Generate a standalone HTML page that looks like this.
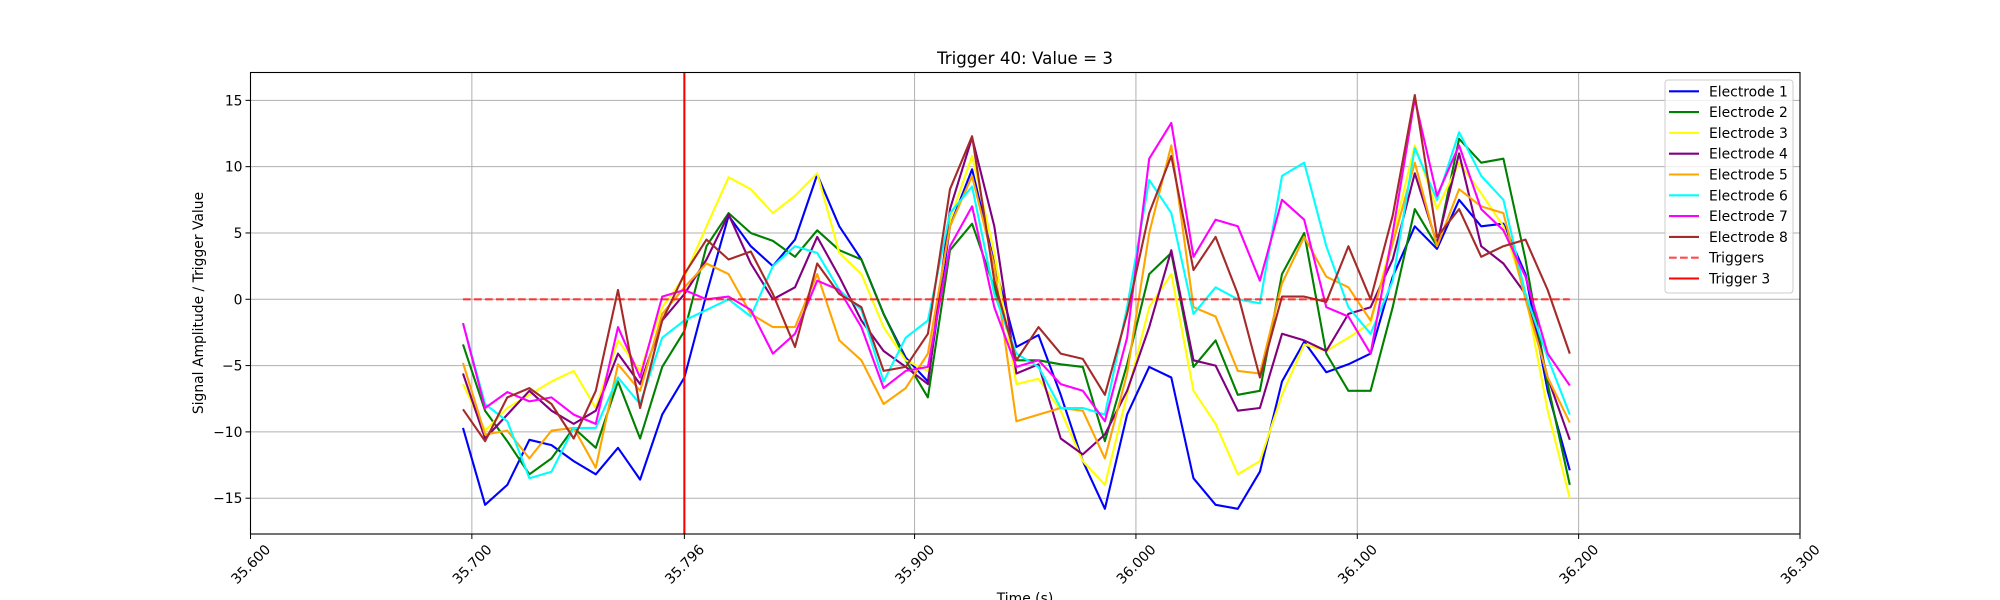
<!DOCTYPE html>
<html><head><meta charset="utf-8"><style>
html,body{margin:0;padding:0;background:#fff;}
svg{display:block;font-family:"DejaVu Sans","Liberation Sans",sans-serif;}
</style></head><body>
<svg id="chart" width="2000" height="600" viewBox="0 0 2000 600" xmlns="http://www.w3.org/2000/svg">
<rect x="0" y="0" width="2000" height="600" fill="#fff"/>
<text x="1025" y="64" text-anchor="middle" font-size="16.7" fill="#000">Trigger 40: Value = 3</text>
<text transform="translate(203,303) rotate(-90)" text-anchor="middle" font-size="13.9" fill="#000">Signal Amplitude / Trigger Value</text>
<text x="1025" y="603" text-anchor="middle" font-size="13.9" fill="#000">Time (s)</text>
<g id="grid"></g>
<g id="series"></g>
<g id="axes"></g>
</svg>
<script>
const times = [35.696,35.706,35.716,35.726,35.736,35.746,35.756,35.766,35.776,35.786,35.796,35.806,35.816,
35.826,35.836,35.846,35.856,35.866,35.876,35.886,35.896,35.906,35.916,35.926,35.936,35.946,
35.956,35.966,35.976,35.986,35.996,36.006,36.016,36.026,36.036,36.046,36.056,36.066,36.076,
36.086,36.096,36.106,36.116,36.126,36.136,36.146,36.156,36.166,36.176,36.186,36.196];
const e1 = [-9.7,-15.5,-14,-10.6,-11,-12.2,-13.2,-11.2,-13.6,-8.7,-5.9,0.4,6.3, 4,2.5,4.5,9.4,5.5,3,-1.1,-4.4,-6.2,5.5,9.8,2.7,-3.6, -2.7,-7.2,-12.2,-15.8,-8.7,-5.1,-5.9,-13.5,-15.5,-15.8,-13,-6.2,-3.2, -5.5,-4.9,-4.1,1.7,5.5,3.8,7.5,5.5,5.7,1.9,-6.9,-12.9];
const e2 = [-3.4,-8.4,-10.7,-13.2,-12,-9.7,-11.2,-6.2,-10.5,-5.1,-2.4,4,6.5, 5,4.4,3.2,5.2,3.7,3,-1.1,-4.6,-7.4,3.7,5.7,0.9,-4.6, -4.6,-4.9,-5.1,-10.7,-4.9,1.9,3.5,-5.1,-3.1,-7.2,-6.9,1.9,5, -4.1,-6.9,-6.9,-0.6,6.8,4,12.1,10.3,10.6,3,-6.4,-14];
const e3 = [-6.4,-9.9,-8.2,-7.2,-6.2,-5.4,-8.2,-3.1,-5.4,-0.6,1.7,5.5,9.2, 8.3,6.5,7.8,9.5,3.5,1.9,-2.1,-4.6,-5.4,6,10.8,3.5,-6.4, -6,-8.4,-12.2,-14,-7.2,-0.6,1.9,-6.9,-9.4,-13.2,-12.2,-7.2,-3.4, -3.9,-2.9,-1.8,4.7,11.6,6.8,10.3,8,5.5,0.4,-8.4,-15];
const e4 = [-5.6,-10.5,-8.7,-6.9,-8.4,-9.4,-8.4,-4.1,-6.4,-1.6,0.4,3,6.4, 2.7,0,0.9,4.7,1.7,-1.6,-3.9,-5.1,-6.4,6.8,12.2,5.5,-5.6, -4.9,-10.5,-11.7,-10.2,-6.9,-2.1,3.7,-4.6,-5,-8.4,-8.2,-2.6,-3.1, -3.9,-1.1,-0.6,3,9.5,4.2,11,4,2.7,0.4,-5.9,-10.6];
const e5 = [-4.8,-10.2,-9.9,-12,-9.9,-9.7,-12.7,-4.9,-6.9,-1.1,0.9,2.7,1.9, -1.1,-2.1,-2.1,1.9,-3.1,-4.6,-7.9,-6.7,-4.1,5.5,9.3,2.5,-9.2, -8.7,-8.2,-8.4,-12,-5.6,5,11.6,-0.6,-1.3,-5.4,-5.6,1.2,4.7, 1.7,0.9,-1.6,4.2,10.3,4,8.3,7,6.5,0,-5.9,-9.3];
const e6 = [-1.8,-7.9,-9.2,-13.5,-13,-9.7,-9.7,-5.9,-7.9,-2.9,-1.6,-0.8,0, -1.3,2.5,4,3.5,0.7,-0.8,-6.2,-2.9,-1.6,6.5,8.5,0.4,-4.1, -5.1,-8.2,-8.2,-8.7,-0.6,9,6.5,-1.1,0.9,0,-0.3,9.3,10.3, 4,-0.6,-2.6,1.4,11.4,7.5,12.6,9.3,7.5,0.4,-4.4,-8.7];
const e7 = [-1.8,-8.2,-7,-7.7,-7.4,-8.7,-9.4,-2.1,-5.9,0.2,0.7,0,0.2, -0.8,-4.1,-2.6,1.4,0.7,-2.1,-6.7,-5.4,-5.1,4,7,-0.6,-5.1, -4.6,-6.4,-6.9,-9.2,-2.9,10.6,13.3,3.2,6,5.5,1.4,7.5,6, -0.6,-1.3,-4.1,5,15.1,7.8,11.6,6.8,5.2,1.7,-4.1,-6.5];
const e8 = [-8.3,-10.7,-7.4,-6.7,-7.9,-10.5,-6.9,0.7,-8.2,-1.6,1.9,4.5,3, 3.6,0.4,-3.6,2.7,0.4,-0.6,-5.4,-5.1,-2.6,8.3,12.3,1.4,-4.6, -2.1,-4.1,-4.5,-7.2,-1.1,6.5,10.8,2.2,4.7,0.4,-5.9,0.2,0.2, -0.2,4,0,6.3,15.4,4.7,6.8,3.2,4,4.5,0.7,-4.1];
const seriesNames = ["Electrode 1","Electrode 2","Electrode 3","Electrode 4","Electrode 5","Electrode 6","Electrode 7","Electrode 8"];
const seriesColors = ["#0000ff","#008000","#ffff00","#800080","#ffa500","#00ffff","#ff00ff","#a52a2a"];
const triggerTime = 35.796;
const triggerLevel = 0;
const xTicks = [35.6,35.7,35.796,35.9,36.0,36.1,36.2,36.3];
const xTickLabels = ["35.600","35.700","35.796","35.900","36.000","36.100","36.200","36.300"];
const yTicks = [-15,-10,-5,0,5,10,15];
const yTickLabels = ["\u221215","\u221210","\u22125","0","5","10","15"];

const NS = "http://www.w3.org/2000/svg";
const L=250.5, R=1800, T=72.5, B=534;
const xMin=35.6, xMax=36.3, yMin=-17.7, yMax=17.1;
function xs(v){return L+(v-xMin)/(xMax-xMin)*(R-L);}
function ys(v){return B-(v-yMin)/(yMax-yMin)*(B-T);}
function mk(tag,attrs,parent){const e=document.createElementNS(NS,tag);for(const k in attrs)e.setAttribute(k,attrs[k]);parent.appendChild(e);return e;}

const grid=document.getElementById('grid');
xTicks.forEach((t,i)=>{
  const g=mk('line',{x1:xs(t),x2:xs(t),y1:T,y2:B,stroke:'#b0b0b0','stroke-width':1},grid);
  
  
});
yTicks.forEach((v,i)=>{
  const g=mk('line',{x1:L,x2:R,y1:ys(v),y2:ys(v),stroke:'#b0b0b0','stroke-width':1},grid);
  
  
});

const sg=document.getElementById('series');
const all=[e1,e2,e3,e4,e5,e6,e7,e8];
all.forEach((vals,si)=>{
  const pts=vals.map((v,i)=>xs(times[i]).toFixed(1)+','+ys(v).toFixed(1)).join(' ');
  const p=mk('polyline',{points:pts,fill:'none',stroke:seriesColors[si],'stroke-width':2.1,'stroke-linejoin':'round'},sg);
  
  
});
const tr=mk('line',{x1:xs(times[0]),x2:xs(times[times.length-1]),y1:ys(triggerLevel),y2:ys(triggerLevel),stroke:'#ff0000','stroke-opacity':0.7,'stroke-width':2.1,'stroke-dasharray':'7.7,3.3'},sg);


const tv=mk('line',{x1:xs(triggerTime),x2:xs(triggerTime),y1:T,y2:B,stroke:'#ff0000','stroke-width':2.1},sg);



const ax=document.getElementById('axes');
const fr=mk('rect',{x:L,y:T,width:R-L,height:B-T,fill:'none',stroke:'#000','stroke-width':1.1},ax);


xTicks.forEach((t,i)=>{
  const x=xs(t);
  const tk=mk('line',{x1:x,x2:x,y1:B,y2:B+5,stroke:'#000','stroke-width':1},ax);
  
  
  const tx=mk('text',{x:0,y:5,'text-anchor':'middle','font-size':13.9,fill:'#000',transform:'translate('+x+','+(B+30)+') rotate(-45)'},ax);
  tx.textContent=xTickLabels[i];
  
  
});
yTicks.forEach((v,i)=>{
  const y=ys(v);
  const tk=mk('line',{x1:L-5,x2:L,y1:y,y2:y,stroke:'#000','stroke-width':1},ax);
  
  
  const tx=mk('text',{x:L-8,y:y+5,'text-anchor':'end','font-size':13.9,fill:'#000'},ax);
  tx.textContent=yTickLabels[i];
  
  
});

// legend
const lg=mk('g',{},ax);


mk('rect',{x:1665,y:80,width:128,height:213,rx:3,fill:'#fff','fill-opacity':0.8,stroke:'#cccccc','stroke-width':1},lg);
const legNames=seriesNames.concat(["Triggers","Trigger 3"]);
const legColors=seriesColors.concat(["#ff0000","#ff0000"]);
legNames.forEach((n,i)=>{
  const y=91.3+i*20.8;
  const e=mk('g',{},lg);
  
  
  const a={x1:1669,x2:1699,y1:y,y2:y,stroke:legColors[i],'stroke-width':2.1};
  if(i===8){a['stroke-dasharray']='7.7,3.3';a['stroke-opacity']=0.7;}
  mk('line',a,e);
  const t=mk('text',{x:1709,y:y+5,'font-size':13.9,fill:'#000'},e);
  t.textContent=n;
});
</script>
</body></html>
